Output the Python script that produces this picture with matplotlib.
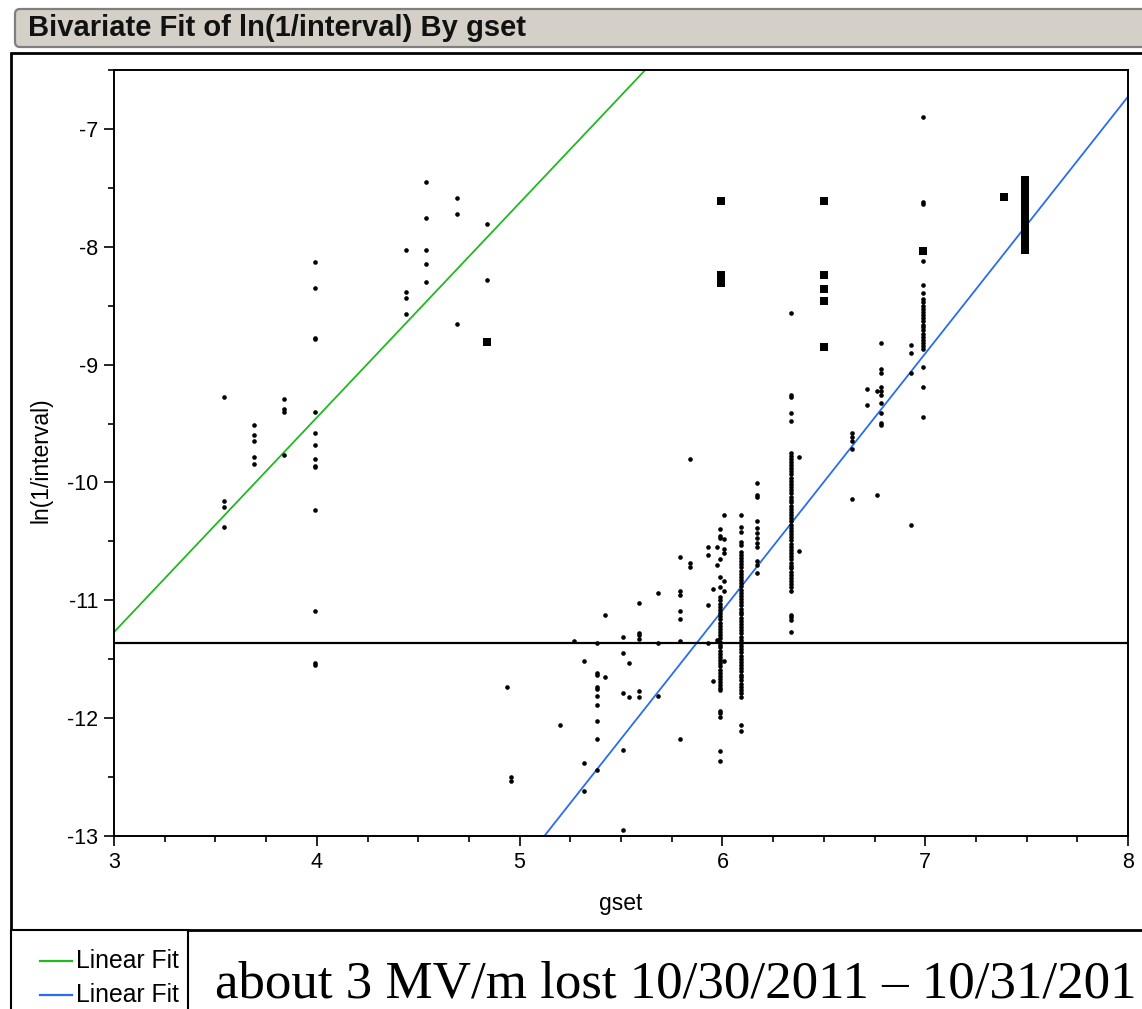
import matplotlib
matplotlib.use("Agg")
import matplotlib.pyplot as plt
from matplotlib.patches import FancyBboxPatch, Rectangle
from matplotlib.ticker import MultipleLocator

plt.rcParams['font.family'] = ['Liberation Sans', 'DejaVu Sans']
plt.rcParams['axes.unicode_minus'] = False

# ---------------------------------------------------------------- data
title_text = "Bivariate Fit of ln(1/interval) By gset"
x_label = "gset"
y_label = "ln(1/interval)"
note_text = "about 3 MV/m lost 10/30/2011 \u2013 10/31/201"
legend_labels = ["Linear Fit", "Linear Fit"]

# single observations (small dots), one list of ln(1/interval) per gset value
dot_gset = [3.54, 3.69, 3.84, 3.99, 4.44, 4.54, 4.69, 4.84, 4.94, 4.96,
            5.20, 5.27, 5.32, 5.38, 5.42, 5.51, 5.54, 5.59, 5.68, 5.79,
            5.84, 5.93, 5.955, 5.975, 5.99, 6.01, 6.09, 6.17, 6.34, 6.38,
            6.64, 6.715, 6.76, 6.78, 6.93, 6.99]
dot_lnr = [
    [-9.275, -10.16, -10.21, -10.38],
    [-9.515, -9.60, -9.65, -9.787, -9.84],
    [-9.295, -9.38, -9.40, -9.77],
    [-8.126, -8.347, -8.777, -8.785, -9.40, -9.58, -9.685, -9.80, -9.86,
     -9.87, -10.23, -11.09, -11.535, -11.553],
    [-8.024, -8.381, -8.432, -8.568],
    [-7.447, -7.753, -8.024, -8.143, -8.296],
    [-7.583, -7.719, -8.653],
    [-7.804, -8.279],
    [-11.739],
    [-12.501, -12.535],
    [-12.062],
    [-11.346],
    [-11.519, -12.384, -12.622],
    [-11.366, -11.62, -11.637, -11.734, -11.751, -11.808, -11.892, -12.028,
     -12.181, -12.436],
    [-11.128, -11.654],
    [-11.315, -11.451, -11.79, -12.266, -12.945],
    [-11.535, -11.824],
    [-11.027, -11.281, -11.298, -11.332, -11.773, -11.824],
    [-10.941, -11.366, -11.808],
    [-10.636, -10.924, -10.958, -11.094, -11.162, -11.346, -12.181],
    [-9.804, -10.687, -10.721],
    [-10.551, -10.619, -11.043, -11.366],
    [-10.908, -11.688],
    [-10.546, -10.704, -11.338],
    [-10.398, -10.455, -10.472, -10.653, -10.806, -10.891, -10.975, -11.00,
     -11.03, -11.055, -11.08, -11.11, -11.135, -11.16, -11.19, -11.215,
     -11.24, -11.27, -11.295, -11.32, -11.35, -11.375, -11.40, -11.43,
     -11.455, -11.48, -11.51, -11.535, -11.56, -11.59, -11.615, -11.64,
     -11.67, -11.695, -11.72, -11.745, -11.762, -11.938, -11.96, -11.994,
     -12.277, -12.362],
    [-10.28, -10.483, -10.568, -10.602, -10.834, -10.919, -11.519],
    [-10.28, -10.38, -10.42, -10.506, -10.529, -10.59, -10.615, -10.64,
     -10.67, -10.695, -10.72, -10.75, -10.775, -10.80, -10.83, -10.855,
     -10.88, -10.91, -10.935, -10.96, -10.99, -11.015, -11.04, -11.07,
     -11.095, -11.12, -11.15, -11.175, -11.20, -11.23, -11.255, -11.28,
     -11.31, -11.335, -11.36, -11.39, -11.415, -11.44, -11.47, -11.495,
     -11.52, -11.55, -11.575, -11.60, -11.63, -11.655, -11.68, -11.71,
     -11.735, -11.76, -11.79, -11.818, -12.057, -12.108],
    [-10.008, -10.104, -10.127, -10.324, -10.39, -10.43, -10.47, -10.51,
     -10.55, -10.665, -10.698, -10.766],
    [-8.565, -9.261, -9.278, -9.413, -9.48, -9.748, -9.775, -9.80, -9.83,
     -9.855, -9.88, -9.906, -9.93, -9.96, -9.985, -10.01, -10.04, -10.065,
     -10.09, -10.12, -10.145, -10.17, -10.20, -10.225, -10.25, -10.28,
     -10.305, -10.33, -10.36, -10.385, -10.41, -10.44, -10.465, -10.49,
     -10.52, -10.545, -10.57, -10.60, -10.625, -10.65, -10.68, -10.705,
     -10.73, -10.76, -10.785, -10.81, -10.84, -10.865, -10.885, -10.925,
     -11.123, -11.14, -11.163, -11.265],
    [-9.788, -10.58],
    [-9.583, -9.612, -9.651, -9.719, -10.143],
    [-9.21, -9.346],
    [-9.227, -10.109],
    [-8.82, -9.04, -9.074, -9.193, -9.227, -9.261, -9.329, -9.414, -9.492,
     -9.516],
    [-8.836, -8.904, -9.074, -10.364],
    [-6.90, -7.62, -7.636, -8.123, -8.327, -8.395, -8.446, -8.47, -8.50,
     -8.525, -8.55, -8.58, -8.605, -8.63, -8.66, -8.685, -8.71, -8.74,
     -8.765, -8.79, -8.82, -8.845, -8.87, -9.023, -9.193, -9.448],
]

# repeated observations (large squares)
sq_gset = [4.84, 5.995, 6.50, 6.99, 7.39, 7.49]
sq_lnr = [
    [-8.805],
    [-7.614, -8.242, -8.28, -8.31],
    [-7.614, -8.242, -8.361, -8.463, -8.853],
    [-8.038],
    [-7.58],
    [-7.433, -7.47, -7.51, -7.55, -7.59, -7.63, -7.70, -7.74, -7.78,
     -7.82, -7.86, -7.90, -7.94, -7.98, -8.027],
]

# linear fits: (intercept, slope) and the overall mean
fit_params = [(-16.733, 1.821), (-24.166, 2.18)]
fit_colors = ['#22b822', '#2a6cf0']
mean_lnr = -11.363

x_limits = (3, 8)
y_limits = (-13, -6.5)

# ---------------------------------------------------------------- figure
W, H = 1142, 1009
fig = plt.figure(figsize=(W / 100, H / 100), dpi=100)
fig.patch.set_facecolor('white')

# pixel-space layer for the report frame, header and legend
bg = fig.add_axes([0, 0, 1, 1])
bg.set_xlim(0, W)
bg.set_ylim(H, 0)
bg.axis('off')

bg.add_patch(FancyBboxPatch((15, 9), 1150, 38,
                            boxstyle="round,pad=0,rounding_size=5",
                            fc='#d4d0c8', ec='#7f7f7f', lw=1.6))
bg.text(28, 28.5, title_text, fontsize=21, fontweight='bold',
        va='center', ha='left', color='#111111')

bg.add_patch(Rectangle((11, 53), 1150, 877, fc='white', ec='black', lw=2))
bg.add_patch(Rectangle((11, 930), 177, 100, fc='white', ec='black', lw=1.5))

for i, (lab, col) in enumerate(zip(legend_labels, fit_colors)):
    yy = 961 + 34 * i
    bg.plot([40, 72], [yy, yy], color=col, lw=1.6)
    bg.text(76, yy, lab, fontsize=17.8, va='center', ha='left')

bg.text(215, 1008.5, note_text, fontsize=38.2,
        family=['Liberation Serif', 'DejaVu Serif'], va='bottom', ha='left')

# ---------------------------------------------------------------- plot
left, right, top, bottom = 114, 1128, 70, 836
ax = fig.add_axes([left / W, 1 - bottom / H, (right - left) / W, (bottom - top) / H])
ax.set_xlim(*x_limits)
ax.set_ylim(*y_limits)

xs = [x_limits[0], x_limits[1]]
for (b0, b1), col in zip(fit_params, fit_colors):
    ax.plot(xs, [b0 + b1 * x for x in xs], color=col, lw=1.3, zorder=2)
ax.axhline(mean_lnr, color='black', lw=1.6, zorder=2)

for g, vals in zip(dot_gset, dot_lnr):
    ax.scatter([g] * len(vals), vals, s=11, marker='o', color='black',
               linewidths=0, zorder=3)
for g, vals in zip(sq_gset, sq_lnr):
    ax.scatter([g] * len(vals), vals, s=34, marker='s', color='black',
               linewidths=0, zorder=3)

ax.xaxis.set_major_locator(MultipleLocator(1))
ax.xaxis.set_minor_locator(MultipleLocator(0.25))
ax.yaxis.set_major_locator(MultipleLocator(1))
ax.yaxis.set_minor_locator(MultipleLocator(0.5))
ax.tick_params(which='major', direction='out', length=7.5, width=1.2,
               labelsize=15.5, pad=4)
ax.tick_params(which='minor', direction='out', length=4, width=1.2)
for sp in ax.spines.values():
    sp.set_linewidth(1.4)

ax.set_xlabel(x_label, fontsize=16.5)
ax.xaxis.set_label_coords(0.5, -0.088)
ax.xaxis.label.set_va('center')
ax.set_ylabel(y_label, fontsize=16.5)
ax.yaxis.set_label_coords(-0.072, 0.49)
ax.yaxis.label.set_va('center')

fig.savefig('out.png', dpi=100)
